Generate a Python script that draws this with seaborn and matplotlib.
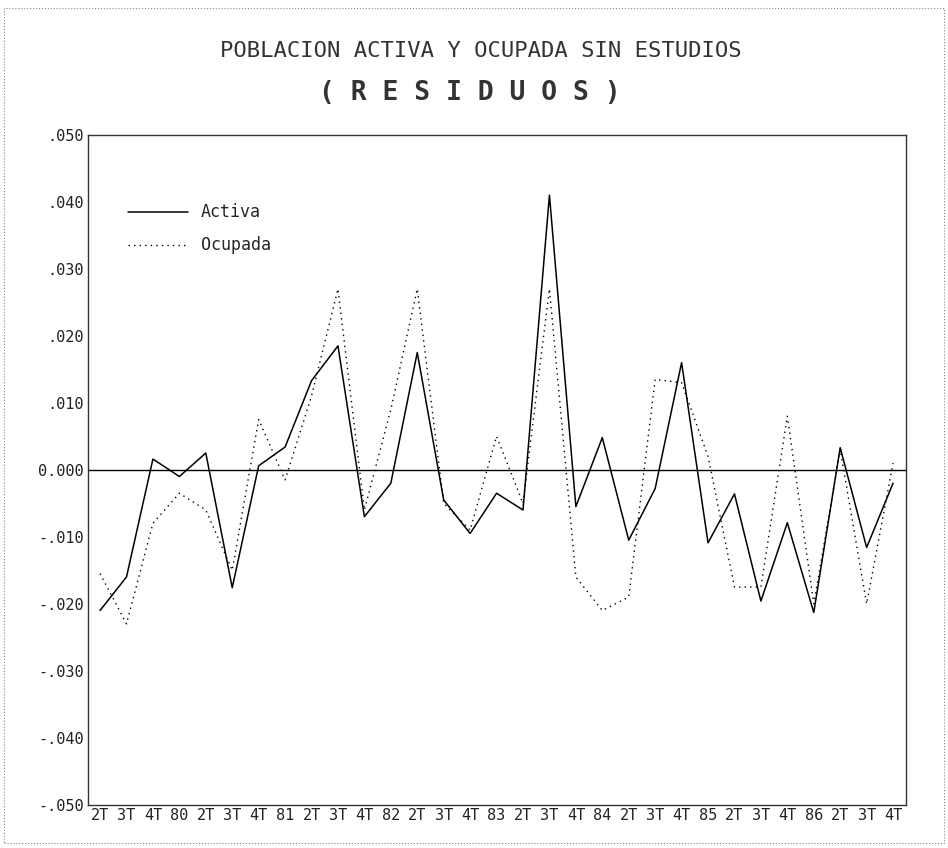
import matplotlib
matplotlib.use("Agg")
import matplotlib.pyplot as plt
import seaborn as sns
import pandas as pd
from matplotlib.patches import Rectangle

# %%
# trimestres 2T 1979 - 4T 1986
trimestres = ["2T", "3T", "4T", "80", "2T", "3T", "4T", "81",
              "2T", "3T", "4T", "82", "2T", "3T", "4T", "83",
              "2T", "3T", "4T", "84", "2T", "3T", "4T", "85",
              "2T", "3T", "4T", "86", "2T", "3T", "4T"]

activa = [-0.0210, -0.0160, 0.0016, -0.0010, 0.0025, -0.0176, 0.0006, 0.0034,
          0.0133, 0.0185, -0.0070, -0.0020, 0.0175, -0.0045, -0.0095, -0.0035,
          -0.0060, 0.0410, -0.0055, 0.0048, -0.0105, -0.0028, 0.0160, -0.0109,
          -0.0036, -0.0196, -0.0079, -0.0213, 0.0033, -0.0116, -0.0020]

ocupada = [-0.0155, -0.0230, -0.0080, -0.0035, -0.0060, -0.0150, 0.0075, -0.0015,
           0.0110, 0.0270, -0.0060, 0.0090, 0.0270, -0.0050, -0.0090, 0.0050,
           -0.0050, 0.0270, -0.0160, -0.0210, -0.0190, 0.0135, 0.0130, 0.0020,
           -0.0175, -0.0175, 0.0080, -0.0200, 0.0030, -0.0200, 0.0010]

yticks = [0.05, 0.04, 0.03, 0.02, 0.01, 0.0, -0.01, -0.02, -0.03, -0.04, -0.05]
ytick_labels = [".050", ".040", ".030", ".020", ".010", "0.000",
                "-.010", "-.020", "-.030", "-.040", "-.050"]

# %%
df = pd.DataFrame({"t": range(len(trimestres)), "Activa": activa, "Ocupada": ocupada})

sns.set_style("white")
plt.rcParams['font.family'] = ['DejaVu Sans Mono']

fig = plt.figure(figsize=(9.48, 8.48), dpi=100)
ax = fig.add_axes([0.093, 0.051, 0.863, 0.790])

sns.lineplot(x="t", y="Activa", data=df, ax=ax, color="black", linewidth=1.1, label="Activa")
sns.lineplot(x="t", y="Ocupada", data=df, ax=ax, color="black", linewidth=1.0,
             linestyle=(0, (1, 3)), label="Ocupada")
ax.axhline(0, color="black", linewidth=1.0)

ax.set_xlim(-0.45, len(trimestres) - 0.5)
ax.set_ylim(-0.05, 0.05)
ax.set_xticks(range(len(trimestres)))
ax.set_xticklabels(trimestres, fontsize=11, color="#222222")
ax.set_yticks(yticks)
ax.set_yticklabels(ytick_labels, fontsize=11, color="#222222")
ax.tick_params(axis="both", direction="in", length=6, width=0.8, color="#555555", pad=3)
ax.tick_params(axis="x", pad=2)
ax.set_xlabel("")
ax.set_ylabel("")
for s in ax.spines.values():
    s.set_color("#333333")
    s.set_linewidth(1.0)
    s.set_visible(True)

ax.legend(loc="upper left", bbox_to_anchor=(0.03, 0.92), frameon=False,
          fontsize=12, handlelength=3.6, labelspacing=0.9)

fig.text(0.507, 0.933, "POBLACION ACTIVA Y OCUPADA SIN ESTUDIOS", ha="center",
         fontsize=16, color="#333333")
fig.text(0.496, 0.882, "( R E S I D U O S )", ha="center", fontsize=19,
         fontweight="bold", color="#333333")

fig.patches.append(Rectangle((0.004, 0.006), 0.992, 0.984, transform=fig.transFigure,
                             fill=False, linestyle=":", linewidth=0.8, edgecolor="#888888"))

plt.savefig("out.png", dpi=100)
